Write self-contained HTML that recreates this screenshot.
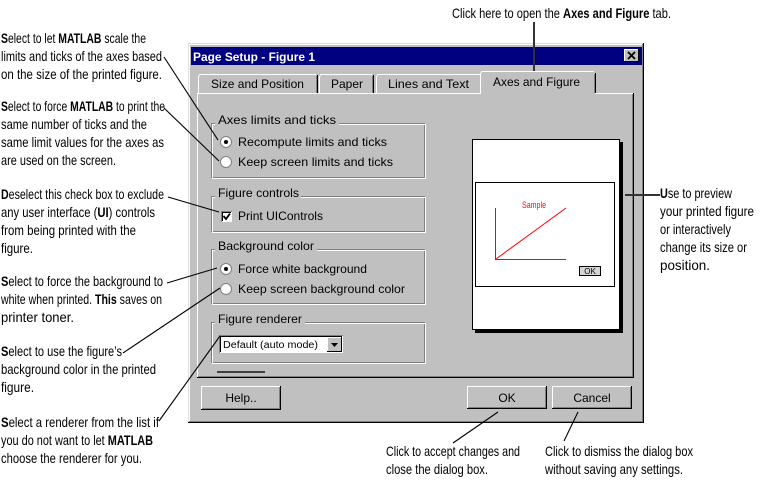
<!DOCTYPE html>
<html><head><meta charset="utf-8"><style>
html,body{margin:0;padding:0;background:#fff;}
svg{display:block;}
.a{font-family:"Liberation Sans",sans-serif;font-size:14px;fill:#000;}
.d{font-family:"Liberation Sans",sans-serif;font-size:12px;fill:#000;}
b,.b{font-weight:bold;}
</style></head><body>
<svg width="765" height="493" viewBox="0 0 765 493" xmlns="http://www.w3.org/2000/svg">
<rect width="765" height="493" fill="#fff"/>

<!-- Dialog frame -->
<rect x="188" y="43" width="456" height="380" fill="#c0c0c0"/>
<g shape-rendering="crispEdges" fill="none">
<path d="M188.5 422V43.5H643" stroke="#dfdfdf"/>
<path d="M189.5 421V44.5H642" stroke="#fff"/>
<path d="M188 422.5H643.5V43" stroke="#000"/>
<path d="M189 421.5H642.5V44" stroke="#808080"/>
</g>
<!-- Title bar -->
<rect x="191" y="47" width="451" height="18" fill="#000080"/>
<text x="193" y="61" class="d b" fill="#fff" style="fill:#fff;font-weight:bold" textLength="122" lengthAdjust="spacingAndGlyphs">Page Setup - Figure 1</text>
<rect x="624" y="49" width="15" height="13" fill="#c0c0c0"/>
<g shape-rendering="crispEdges" fill="none">
<path d="M624.5 62V49.5H639" stroke="#fff"/>
<path d="M624 61.5H638.5V49" stroke="#000"/>
</g>
<path d="M628 52L635 59M635 52L628 59" stroke="#000" stroke-width="1.8"/>

<!-- Panel -->
<g shape-rendering="crispEdges" fill="none">
<path d="M197.5 377V93.5H633" stroke="#fff"/>
<path d="M197 377.5H633.5V93" stroke="#000"/>
<path d="M198 376.5H632.5V94" stroke="#808080"/>
</g>

<!-- Unselected tabs -->
<g shape-rendering="crispEdges" fill="none">
<path d="M198.5 93V76.5L200 74.5H316" stroke="#fff"/>
<path d="M317.5 75V93" stroke="#000"/><path d="M316.5 76V93" stroke="#808080"/>
<path d="M319.5 93V76.5L321 74.5H372" stroke="#fff"/>
<path d="M373.5 75V93" stroke="#000"/><path d="M372.5 76V93" stroke="#808080"/>
<path d="M376.5 93V76.5L378 74.5H480" stroke="#fff"/>
</g>
<text x="211" y="88" class="d" textLength="93" lengthAdjust="spacingAndGlyphs">Size and Position</text>
<text x="331" y="88" class="d" textLength="32" lengthAdjust="spacingAndGlyphs">Paper</text>
<text x="388" y="88" class="d" textLength="81" lengthAdjust="spacingAndGlyphs">Lines and Text</text>
<!-- Selected tab -->
<rect x="481" y="72" width="114" height="23" fill="#c0c0c0"/>
<g shape-rendering="crispEdges" fill="none">
<path d="M480.5 94V73.5L482 71.5H594" stroke="#fff"/>
<path d="M595.5 73V93" stroke="#000"/><path d="M594.5 74V93" stroke="#808080"/>
</g>
<text x="493" y="86" class="d" textLength="87" lengthAdjust="spacingAndGlyphs">Axes and Figure</text>

<!-- Group boxes -->
<g shape-rendering="crispEdges" fill="none">
<rect x="211.5" y="123.5" width="213" height="54" stroke="#808080"/>
<rect x="212.5" y="124.5" width="213" height="54" stroke="#fff"/>
<rect x="211.5" y="196.5" width="213" height="35" stroke="#808080"/>
<rect x="212.5" y="197.5" width="213" height="35" stroke="#fff"/>
<rect x="211.5" y="249.5" width="213" height="54" stroke="#808080"/>
<rect x="212.5" y="250.5" width="213" height="54" stroke="#fff"/>
<rect x="211.5" y="322.5" width="213" height="40" stroke="#808080"/>
<rect x="212.5" y="323.5" width="213" height="40" stroke="#fff"/>
</g>
<rect x="215" y="116" width="124" height="12" fill="#c0c0c0"/>
<rect x="215" y="189" width="86" height="12" fill="#c0c0c0"/>
<rect x="215" y="242" width="102" height="12" fill="#c0c0c0"/>
<rect x="215" y="315" width="90" height="12" fill="#c0c0c0"/>
<text x="218" y="124" class="d" textLength="118" lengthAdjust="spacingAndGlyphs">Axes limits and ticks</text>
<text x="218" y="197" class="d" textLength="81" lengthAdjust="spacingAndGlyphs">Figure controls</text>
<text x="218" y="250" class="d" textLength="96" lengthAdjust="spacingAndGlyphs">Background color</text>
<text x="218" y="323" class="d" textLength="84" lengthAdjust="spacingAndGlyphs">Figure renderer</text>

<!-- Radios -->
<g>
<circle cx="226" cy="142" r="5.5" fill="#fff" stroke="#808080"/>
<circle cx="226" cy="142" r="2" fill="#000"/>
<circle cx="226" cy="162" r="5.5" fill="#fff" stroke="#808080"/>
<circle cx="226" cy="269" r="5.5" fill="#fff" stroke="#808080"/>
<circle cx="226" cy="269" r="2" fill="#000"/>
<circle cx="226" cy="289" r="5.5" fill="#fff" stroke="#808080"/>
</g>
<text x="238" y="146" class="d" textLength="149" lengthAdjust="spacingAndGlyphs">Recompute limits and ticks</text>
<text x="238" y="166" class="d" textLength="155" lengthAdjust="spacingAndGlyphs">Keep screen limits and ticks</text>
<text x="238" y="273" class="d" textLength="129" lengthAdjust="spacingAndGlyphs">Force white background</text>
<text x="238" y="293" class="d" textLength="167" lengthAdjust="spacingAndGlyphs">Keep screen background color</text>

<!-- Checkbox -->
<rect x="221" y="211" width="11" height="11" fill="#fff"/>
<g shape-rendering="crispEdges" fill="none">
<path d="M221.5 222V211.5H232" stroke="#808080"/>
<path d="M222.5 221V212.5H231" stroke="#000"/>
</g>
<path d="M223.5 216L226 219L230 213.5" stroke="#000" stroke-width="1.8" fill="none"/>
<text x="238" y="220" class="d" textLength="85" lengthAdjust="spacingAndGlyphs">Print UIControls</text>

<!-- Dropdown -->
<rect x="219" y="335" width="124" height="18" fill="#fff"/>
<g shape-rendering="crispEdges" fill="none">
<path d="M219.5 353V335.5H343" stroke="#808080"/>
<path d="M220.5 352V336.5H342" stroke="#000"/>
</g>
<text x="223" y="348" style="font-family:'Liberation Sans',sans-serif;font-size:10px" textLength="95" lengthAdjust="spacingAndGlyphs">Default (auto mode)</text>
<rect x="327" y="337" width="15" height="15" fill="#c0c0c0"/>
<g shape-rendering="crispEdges" fill="none">
<path d="M327.5 352V337.5H342" stroke="#fff"/>
<path d="M327 351.5H341.5V337" stroke="#000"/>
</g>
<path d="M331 343H338L334.5 347Z" fill="#000"/>

<rect x="217" y="371" width="48" height="2" fill="#404040"/>

<!-- Buttons -->
<g shape-rendering="crispEdges" fill="none">
<path d="M201.5 410V386.5H281" stroke="#fff"/>
<path d="M201 409.5H280.5V386" stroke="#000"/>
<path d="M202 408.5H279.5V387" stroke="#808080"/>
<path d="M467.5 409V386.5H547" stroke="#fff"/>
<path d="M467 408.5H546.5V386" stroke="#000"/>
<path d="M468 407.5H545.5V387" stroke="#808080"/>
<path d="M552.5 409V386.5H632" stroke="#fff"/>
<path d="M552 408.5H631.5V386" stroke="#000"/>
<path d="M553 407.5H630.5V387" stroke="#808080"/>
</g>
<text x="241" y="402" class="d" text-anchor="middle">Help..</text>
<text x="507" y="402" class="d" text-anchor="middle">OK</text>
<text x="592" y="402" class="d" text-anchor="middle">Cancel</text>

<!-- Preview -->
<rect x="620" y="142" width="3" height="191" fill="#000"/>
<rect x="475" y="330" width="148" height="3" fill="#000"/>
<rect x="472.5" y="139.5" width="147" height="190" fill="#fff" stroke="#000" shape-rendering="crispEdges"/>
<rect x="475.5" y="182.5" width="139" height="104" fill="#fff" stroke="#000" shape-rendering="crispEdges"/>
<text x="522" y="208" style="font-family:'Liberation Sans',sans-serif;font-size:9px;fill:#f00" textLength="24" lengthAdjust="spacingAndGlyphs">Sample</text>
<path d="M495.5 208V260M495 259.5H566" stroke="#f00" fill="none" shape-rendering="crispEdges"/>
<path d="M496 259L566 208" stroke="#f00" fill="none"/>
<rect x="579.5" y="266.5" width="21" height="9" fill="#d4d4d4" stroke="#000" shape-rendering="crispEdges"/>
<text x="590" y="274" text-anchor="middle" style="font-family:'Liberation Sans',sans-serif;font-size:8px">OK</text>

<!-- Connectors -->
<g stroke="#000" stroke-width="1.1" fill="none">
<path d="M164 57L218 140"/>
<path d="M164 108L219 161"/>
<path d="M168 197L219 212"/>
<path d="M167 283L217 268"/>
<path d="M123 353L220 288"/>
<path d="M159 421L220 336"/>
<path d="M498 412L453 443"/>
<path d="M578 412L564 441"/>
</g>
<path d="M625 195H660" stroke="#333" stroke-width="2"/>
<path d="M534 22V71" stroke="#333" stroke-width="2"/>

<!-- Annotations left -->
<g class="a" lengthAdjust="spacingAndGlyphs">
<text x="1" y="43" class="a" textLength="145" lengthAdjust="spacingAndGlyphs"><tspan font-weight="bold">S</tspan>elect to let <tspan font-weight="bold">MATLAB</tspan> scale the</text>
<text x="1" y="61" class="a" textLength="161" lengthAdjust="spacingAndGlyphs">limits and ticks of the axes based</text>
<text x="1" y="79" class="a" textLength="161" lengthAdjust="spacingAndGlyphs">on the size of the printed figure.</text>

<text x="1" y="111" class="a" textLength="164" lengthAdjust="spacingAndGlyphs"><tspan font-weight="bold">S</tspan>elect to force <tspan font-weight="bold">MATLAB</tspan> to print the</text>
<text x="1" y="129" class="a" textLength="146" lengthAdjust="spacingAndGlyphs">same number of ticks and the</text>
<text x="1" y="147" class="a" textLength="163" lengthAdjust="spacingAndGlyphs">same limit values for the axes as</text>
<text x="1" y="165" class="a" textLength="115" lengthAdjust="spacingAndGlyphs">are used on the screen.</text>

<text x="1" y="199" class="a" textLength="163" lengthAdjust="spacingAndGlyphs"><tspan font-weight="bold">D</tspan>eselect this check box to exclude</text>
<text x="1" y="217" class="a" textLength="154" lengthAdjust="spacingAndGlyphs">any user interface (<tspan font-weight="bold">UI</tspan>) controls</text>
<text x="1" y="235" class="a" textLength="135" lengthAdjust="spacingAndGlyphs">from being printed with the</text>
<text x="1" y="253" class="a" textLength="32" lengthAdjust="spacingAndGlyphs">figure.</text>

<text x="1" y="286" class="a" textLength="162" lengthAdjust="spacingAndGlyphs"><tspan font-weight="bold">S</tspan>elect to force the background to</text>
<text x="1" y="304" class="a" textLength="161" lengthAdjust="spacingAndGlyphs">white when printed. <tspan font-weight="bold">This</tspan> saves on</text>
<text x="1" y="322" class="a" textLength="73" lengthAdjust="spacingAndGlyphs">printer toner.</text>

<text x="1" y="356" class="a" textLength="121" lengthAdjust="spacingAndGlyphs"><tspan font-weight="bold">S</tspan>elect to use the figure’s</text>
<text x="1" y="374" class="a" textLength="155" lengthAdjust="spacingAndGlyphs">background color in the printed</text>
<text x="1" y="392" class="a" textLength="33" lengthAdjust="spacingAndGlyphs">figure.</text>

<text x="1" y="427" class="a" textLength="158" lengthAdjust="spacingAndGlyphs"><tspan font-weight="bold">S</tspan>elect a renderer from the list if</text>
<text x="1" y="445" class="a" textLength="152" lengthAdjust="spacingAndGlyphs">you do not want to let <tspan font-weight="bold">MATLAB</tspan></text>
<text x="1" y="463" class="a" textLength="141" lengthAdjust="spacingAndGlyphs">choose the renderer for you.</text>
</g>

<!-- Annotations right -->
<text x="660" y="198" class="a" textLength="72" lengthAdjust="spacingAndGlyphs"><tspan font-weight="bold">U</tspan>se to preview</text>
<text x="660" y="216" class="a" textLength="94" lengthAdjust="spacingAndGlyphs">your printed figure</text>
<text x="660" y="234" class="a" textLength="71" lengthAdjust="spacingAndGlyphs">or interactively</text>
<text x="660" y="252" class="a" textLength="87" lengthAdjust="spacingAndGlyphs">change its size or</text>
<text x="660" y="270" class="a" textLength="50" lengthAdjust="spacingAndGlyphs">position.</text>

<!-- Annotations bottom -->
<text x="386" y="456" class="a" textLength="134" lengthAdjust="spacingAndGlyphs">Click to accept changes and</text>
<text x="386" y="474" class="a" textLength="102" lengthAdjust="spacingAndGlyphs">close the dialog box.</text>
<text x="545" y="456" class="a" textLength="148" lengthAdjust="spacingAndGlyphs">Click to dismiss the dialog box</text>
<text x="545" y="474" class="a" textLength="138" lengthAdjust="spacingAndGlyphs">without saving any settings.</text>

<!-- Annotation top -->
<text x="452" y="18" class="a" textLength="219" lengthAdjust="spacingAndGlyphs">Click here to open the <tspan font-weight="bold">Axes and Figure</tspan> tab.</text>
</svg>
</body></html>
